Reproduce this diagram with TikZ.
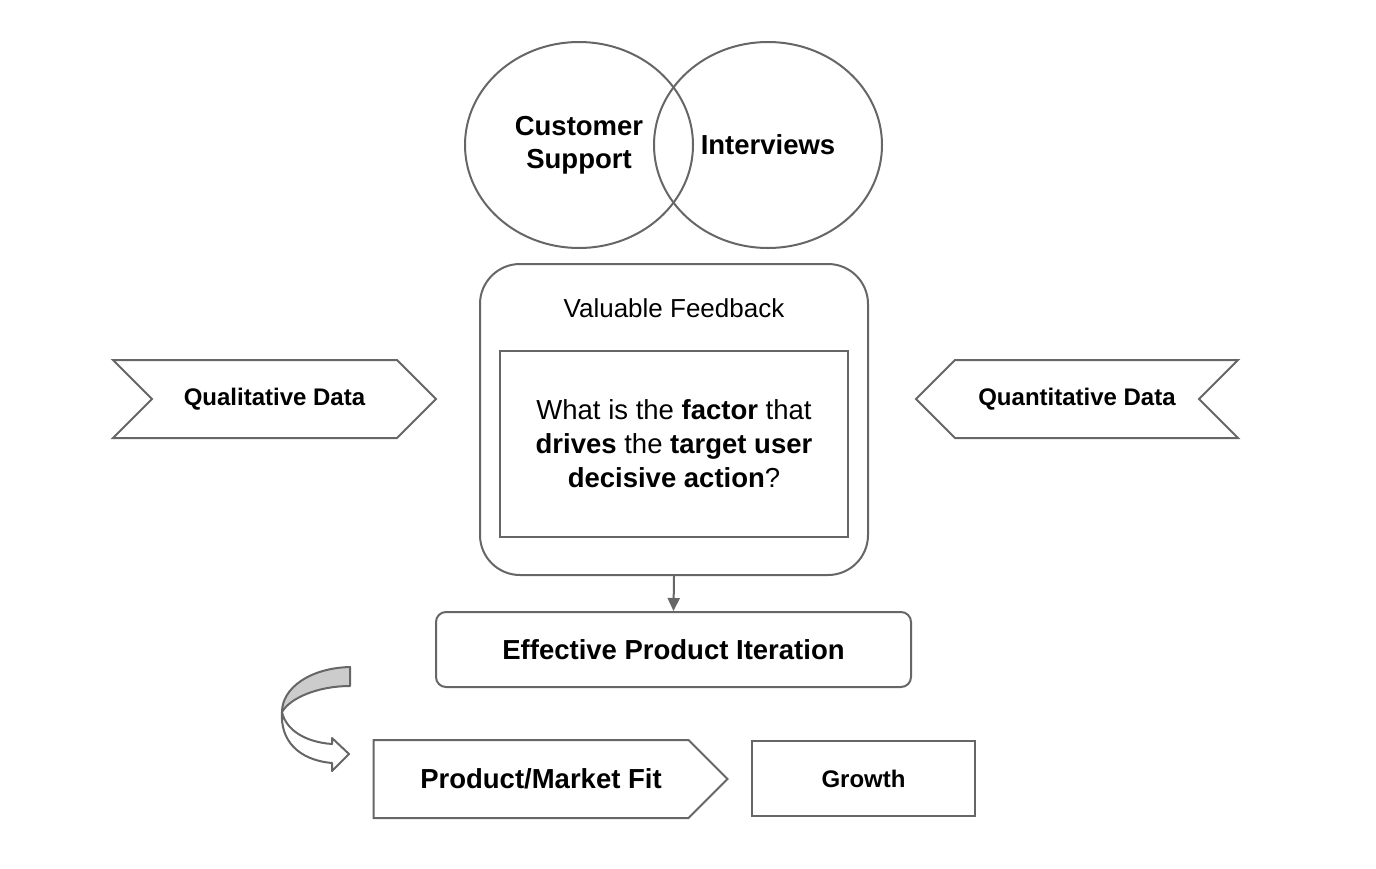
\documentclass[tikz,border=0pt]{standalone}
\usepackage{fontspec}
\setmainfont{Liberation Sans}
\usetikzlibrary{arrows.meta,positioning,shapes.geometric,shapes.symbols}
\definecolor{linegray}{HTML}{666666}
\definecolor{foldgray}{HTML}{CCCCCC}
\tikzset{
  venn/.style={ellipse,draw=linegray,line width=2pt,minimum width=228pt,minimum height=206pt,
    align=center,font=\fontsize{27.5}{33}\selectfont\bfseries},
  frame/.style={rectangle,draw=linegray,line width=2pt,rounded corners=#1,align=center},
  frame/.default=0pt,
  chevron/.style={signal,draw=linegray,line width=2pt,minimum height=78pt,
    font=\fontsize{24}{29}\selectfont\bfseries},
  arrow/.style={-{Triangle[length=13pt,width=12pt]},line width=2pt,draw=linegray},
  bigtext/.style={font=\fontsize{27.5}{34}\selectfont},
  bigbold/.style={font=\fontsize{27.5}{34}\selectfont\bfseries}
}

\begin{document}
\begin{tikzpicture}[x=1pt,y=-1pt]
\useasboundingbox (0,0) rectangle (1376,868);
% sources
\node[venn] (support) at (579,145) {Customer\\Support};
\node[venn] (interviews) at (768,145) {Interviews};
% feedback box
\node[frame=40pt,minimum width=388pt,minimum height=311pt] (feedback) at (674,419.5) {};
\node[font=\fontsize{26}{31}\selectfont] (title) at (674,308) {Valuable Feedback};
\node[frame,minimum width=348pt,minimum height=186pt,bigtext] (question) at (674,444)
  {What is the \textbf{factor} that\\\textbf{drives} the \textbf{target user}\\\textbf{decisive action}?};
\node[chevron,signal from=west,signal to=east,minimum width=323pt] (quali) at (274.5,399) {Qualitative Data};
\node[chevron,signal from=east,signal to=west,minimum width=322pt] (quanti) at (1077,399) {Quantitative Data};
% outcome
\node[frame=10pt,minimum width=475pt,minimum height=75pt,bigbold] (iteration) at (673.5,649.5)
  {Effective Product Iteration};
\draw[arrow] (feedback.south) -- (iteration.north);
\node[chevron,signal to=east,minimum width=354pt,bigbold] (fit) at (531,779) {\hspace*{20pt}Product/Market Fit};
\node[frame,minimum width=223pt,minimum height=75pt,font=\fontsize{24}{29}\selectfont\bfseries] (growth) at (863.5,778.5) {Growth};
% curved arrow
\draw[linegray,line width=2pt,fill=foldgray,line join=round]
  (350,667) .. controls (310,668) and (282,688) .. (282,712)
  .. controls (290,698) and (318,686) .. (350,686) -- cycle;
\draw[linegray,line width=2pt,fill=white,line join=round]
  (282,712) .. controls (286,730) and (305,742) .. (332,744) -- (332,738) -- (349,754)
  -- (332,771) -- (332,763) .. controls (298,760) and (280,740) .. (282,712) -- cycle;
\end{tikzpicture}
\end{document}
